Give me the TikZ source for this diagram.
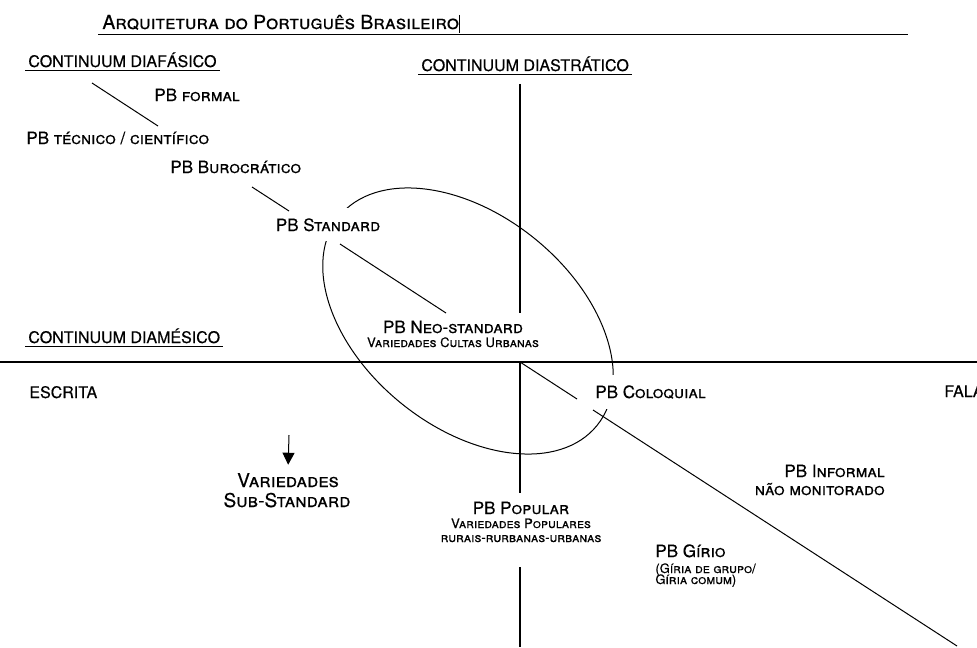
\documentclass[tikz,border=0pt]{standalone}
\usepackage{fontspec}
\setmainfont{TeX Gyre Heros}[FakeBold=0.4]
\usetikzlibrary{arrows.meta, backgrounds}

\begin{document}
\begin{tikzpicture}[x=0.5pt, y=-0.5pt,
        titlefont/.style={inner sep=2pt, font=\fontsize{9.7}{12}\selectfont},
        head/.style={inner sep=1.5pt, font=\fontsize{8}{9.5}\selectfont},
        lbl/.style={inner sep=1pt, font=\fontsize{8.5}{10}\selectfont},
        big/.style={inner sep=1pt, font=\fontsize{9.5}{11}\selectfont},
        small/.style={inner sep=1pt, font=\fontsize{6.5}{7.5}\selectfont},
        gap/.style={fill=white, inner xsep=3pt, inner ysep=5pt},
        axis/.style={line width=0.6pt},
        trace/.style={line width=0.5pt}]
            \useasboundingbox (0,0) rectangle (977,647);

            \node[titlefont, anchor=base west] (title) at (98,29) {\textsc{Arquitetura do Português Brasileiro}};
            \node[head, anchor=base west] (diafas) at (25,67) {CONTINUUM DIAFÁSICO};
            \node[head, anchor=base west] (diastr) at (418,71) {CONTINUUM DIASTRÁTICO};
            \node[head, anchor=base west] (diames) at (25,343) {CONTINUUM DIAMÉSICO};
            \node[head, anchor=base west] (escrita) at (26,398) {ESCRITA};
            \node[head, anchor=base west] (fala) at (941,397) {FALA};

            \node[lbl, anchor=base west] (formal) at (152,101) {PB \textsc{formal}};
            \node[lbl, anchor=base west] (tecnico) at (24,144) {PB \textsc{técnico / científico}};
            \node[lbl, anchor=base west] (buro) at (168,173) {PB \textsc{Burocrático}};
            \node[lbl, gap, anchor=base] (standard) at (328,231) {PB \textsc{Standard}};
            \node[lbl, anchor=base] (neo) at (453,333) {PB \textsc{Neo-standard}};
            \node[small, anchor=base] (cultas) at (453,347) {\textsc{Variedades Cultas Urbanas}};
            \node[lbl, gap, anchor=base west] (coloq) at (589,398) {PB \textsc{Coloquial}};
            \node[big, anchor=base] (varied) at (288,487) {\textsc{Variedades}};
            \node[big, anchor=base] (substd) at (287,507) {\textsc{Sub-Standard}};
            \node[lbl, anchor=base] (popular) at (521,514) {PB \textsc{Popular}};
            \node[small, anchor=base] (varpop) at (521,528) {\textsc{Variedades Populares}};
            \node[small, anchor=base] (rurais) at (521,542) {\textsc{rurais-rurbanas-urbanas}};
            \node[lbl, anchor=base east] (informal) at (887,477) {PB \textsc{Informal}};
            \node[lbl, anchor=base east] (naomon) at (887,495) {\textsc{não monitorado}};
            \node[lbl, anchor=base west] (girio) at (653,557) {PB \textsc{Gírio}};
            \node[small, anchor=base west] (giria1) at (653,573) {\textsc{(Gíria de grupo/}};
            \node[small, anchor=base west] (giria2) at (653,584) {\textsc{Gíria comum)}};

            \coordinate (titleend) at (908,34);
            \coordinate (cursor) at (459,15);
            \coordinate (arrtop) at (289,435);
            \coordinate (h0) at (0,362);
            \coordinate (h1) at (977,362);
            \coordinate (v0) at (520,84);
            \coordinate (v1) at (520,313);
            \coordinate (v2) at (520,362);
            \coordinate (v3) at (520,493);
            \coordinate (v4) at (520,567);
            \coordinate (v5) at (520,647);
            \coordinate (d0) at (92,83);
            \coordinate (d1) at (158,126);
            \coordinate (d2) at (252,187);
            \coordinate (d3) at (289,211);
            \coordinate (d4) at (340,244);
            \coordinate (d5) at (446,313);
            \coordinate (d6) at (520,362);
            \coordinate (d7) at (577,399);
            \coordinate (d8) at (593,410);
            \coordinate (d9) at (957,646);

            \draw[trace] (title.south west) -- (title.south west -| titleend);
            \draw[trace] (cursor) -- ++(0,18);
            \draw[trace] (diafas.south west) -- (diafas.south east);
            \draw[trace] (diastr.south west) -- (diastr.south east);
            \draw[trace] (diames.south west) -- (diames.south east);

            \draw[axis] (h0) -- (h1);
            \draw[axis] (v0) -- (v1) (v2) -- (v3) (v4) -- (v5);
            \draw[trace] (d0) -- (d1) (d2) -- (d3) (d4) -- (d5) (d6) -- (d7) (d8) -- (d9);
            \draw[trace, -{Triangle[length=6pt, width=6pt]}, shorten >=3pt] (arrtop) -- (varied.north);

            \begin{scope}[on background layer]
                \draw[trace, rotate around={-39:(468,321)}] (468,321) ellipse [x radius=83pt, y radius=53pt];
            \end{scope}
        \end{tikzpicture}
\end{document}
